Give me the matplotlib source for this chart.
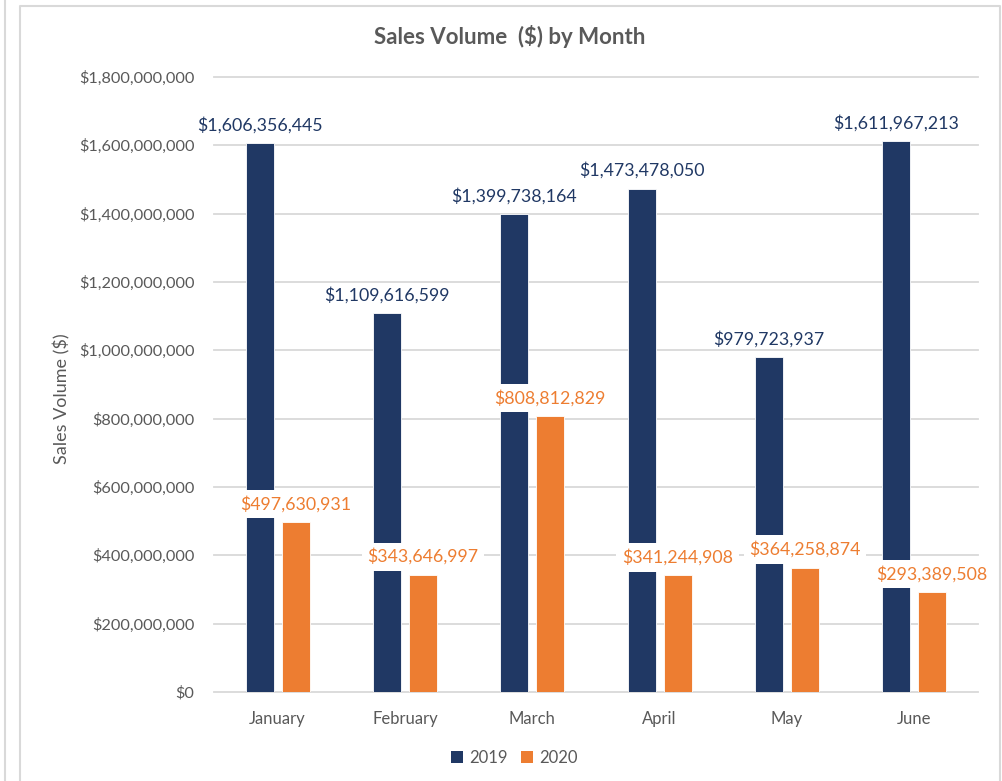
import numpy as np
import matplotlib
matplotlib.use("Agg")
import matplotlib.pyplot as plt
from matplotlib.patches import Patch
from matplotlib.lines import Line2D

plt.rcParams['font.family'] = ['Lato', 'DejaVu Sans']

months = ['January', 'February', 'March', 'April', 'May', 'June']
sales_2019 = [1606356445, 1109616599, 1399738164, 1473478050, 979723937, 1611967213]
sales_2020 = [497630931, 343646997, 808812829, 341244908, 364258874, 293389508]
yticks = [0, 200e6, 400e6, 600e6, 800e6, 1000e6, 1200e6, 1400e6, 1600e6, 1800e6]

navy = '#203864'
orange = '#ED7D31'
grey_txt = '#595959'
grid_c = '#D9D9D9'

fig = plt.figure(figsize=(10.03, 7.81), dpi=100)
ax = fig.add_axes([214/1003, 1 - 692/781, (978-214)/1003, (692-77)/781])

x = np.arange(len(months))
w = 0.22
off = 0.141
b19 = ax.bar(x - off, sales_2019, w, color=navy, edgecolor='white', linewidth=0.6, zorder=2)
b20 = ax.bar(x + off, sales_2020, w, color=orange, edgecolor='white', linewidth=0.6, zorder=2)

ax.set_xlim(-0.5, 5.5)
ax.set_ylim(0, 1.8e9)
ax.set_yticks(yticks)
ax.set_yticklabels(['${:,.0f}'.format(v) for v in yticks])
ax.set_xticks(x)
ax.set_xticklabels(months)
ax.tick_params(axis='both', length=0, colors=grey_txt)
ax.tick_params(axis='y', pad=14, labelsize=11.7)
ax.tick_params(axis='x', pad=14, labelsize=12)
ax.set_axisbelow(True)
ax.grid(True, axis='y', color=grid_c, linewidth=1.3, clip_on=False)
for s in ax.spines.values():
    s.set_visible(False)

for xi, v in zip(x, sales_2019):
    ax.annotate('${:,.0f}'.format(v), (xi - off, v), xytext=(0, 9), textcoords='offset points',
                ha='center', va='baseline', color=navy, fontsize=12.8, zorder=5)
for xi, v in zip(x, sales_2020):
    ax.annotate('${:,.0f}'.format(v), (xi + off, v), xytext=(0, 9), textcoords='offset points',
                ha='center', va='baseline', color=orange, fontsize=12.8, zorder=5,
                bbox=dict(boxstyle='square,pad=0.32', facecolor='white', edgecolor='none'))

fig.text(510/1003, 1 - 36/781, 'Sales Volume  ($) by Month', ha='center', va='center',
         fontsize=16, fontweight='bold', color=grey_txt)
fig.text(62/1003, 1 - 399/781, 'Sales Volume ($)', rotation=90, ha='center', va='center',
         fontsize=13, color=grey_txt)

handles = [Patch(facecolor=navy, label='2019'), Patch(facecolor=orange, label='2020')]
fig.legend(handles=handles, loc='center', bbox_to_anchor=(514/1003, 1 - 758/781), ncol=2,
           frameon=False, fontsize=12, labelcolor=grey_txt, handlelength=0.75, handleheight=0.75,
           handletextpad=0.35, columnspacing=0.8)

# chart frame
fig.add_artist(Line2D([5/1003, 5/1003], [0, 1], color=grid_c, linewidth=1.5))
fig.add_artist(Line2D([20/1003, 20/1003, 1000/1003, 1000/1003], [0, 1 - 6/781, 1 - 6/781, 0],
                      color=grid_c, linewidth=1.5))

fig.savefig('out.png', dpi=100)
